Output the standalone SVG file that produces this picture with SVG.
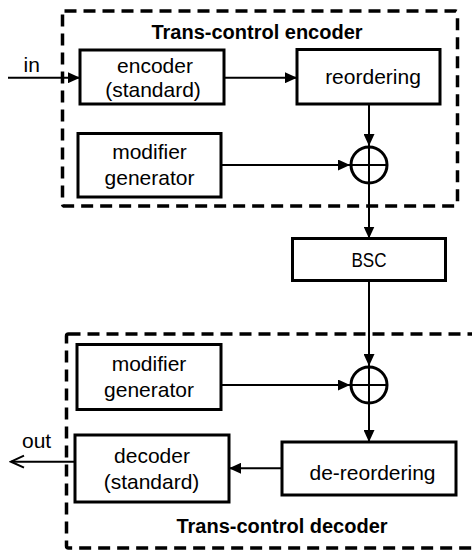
<svg xmlns="http://www.w3.org/2000/svg" width="472" height="550" viewBox="0 0 472 550">
  <style>
    .frame { fill: none; stroke: #000; stroke-width: 3.5; stroke-dasharray: 12 7; }
    .box { fill: #fff; stroke: #000; stroke-width: 3; }
    .xor { fill: #fff; stroke: #000; stroke-width: 3; }
    .cross { stroke: #000; stroke-width: 2; }
    .wire { fill: none; stroke: #000; stroke-width: 2; }
    text { font-family: "Liberation Sans", Arial, sans-serif; font-size: 21px; fill: #000; }
    .c { text-anchor: middle; }
    .title { font-weight: bold; font-size: 20px; text-anchor: middle; }
  </style>
  <defs>
    <marker id="arrow" markerUnits="userSpaceOnUse" markerWidth="13" markerHeight="11" refX="12" refY="5.5" orient="auto">
      <path d="M0,0 L12,5.5 L0,11 z" fill="#000"/>
    </marker>
    <marker id="open" markerUnits="userSpaceOnUse" markerWidth="16" markerHeight="16" refX="14" refY="7" orient="auto">
      <path d="M1,1 L14,7 L1,13" fill="none" stroke="#000" stroke-width="2"/>
    </marker>
  </defs>

  <!-- dashed enclosures -->
  <g id="encoder-frame">
    <rect class="frame" x="62.5" y="11" width="395" height="195" rx="2"/>
    <text class="title" x="257" y="38.5">Trans-control encoder</text>
  </g>
  <g id="decoder-frame">
    <rect class="frame" x="66.5" y="334" width="430" height="214" rx="2"/>
    <text class="title" x="282" y="533">Trans-control decoder</text>
  </g>

  <!-- connectors -->
  <g id="connectors">
    <line class="wire" x1="8" y1="77.7" x2="80" y2="77.7" marker-end="url(#arrow)"/>
    <line class="wire" x1="224" y1="77.7" x2="297" y2="77.7" marker-end="url(#arrow)"/>
    <line class="wire" x1="369" y1="104" x2="369" y2="146" marker-end="url(#arrow)"/>
    <line class="wire" x1="221" y1="165" x2="350" y2="165" marker-end="url(#arrow)"/>
    <line class="wire" x1="369" y1="183" x2="369" y2="238.5" marker-end="url(#arrow)"/>
    <line class="wire" x1="369" y1="280.5" x2="369" y2="366" marker-end="url(#arrow)"/>
    <line class="wire" x1="221" y1="385" x2="350" y2="385" marker-end="url(#arrow)"/>
    <line class="wire" x1="369" y1="403" x2="369" y2="442" marker-end="url(#arrow)"/>
    <line class="wire" x1="282" y1="468.3" x2="229" y2="468.3" marker-end="url(#arrow)"/>
    <line class="wire" x1="75" y1="461.7" x2="11" y2="461.7" marker-end="url(#open)"/>
    <text x="23.5" y="72">in</text>
    <text x="22" y="448">out</text>
  </g>

  <!-- encoder side -->
  <g id="encoder">
    <rect class="box" x="80" y="50" width="144" height="54"/>
    <text class="c" x="155" y="72.5">encoder</text>
    <text class="c" x="153" y="97">(standard)</text>
  </g>
  <g id="reordering">
    <rect class="box" x="297" y="49.5" width="143" height="54.5"/>
    <text class="c" x="373" y="83.5">reordering</text>
  </g>
  <g id="modifier-enc">
    <rect class="box" x="78" y="133.5" width="143" height="63.5"/>
    <text class="c" x="149.5" y="159">modifier</text>
    <text class="c" x="149.5" y="184.5">generator</text>
  </g>
  <g id="xor-enc">
    <circle class="xor" cx="369" cy="165" r="18"/>
    <line class="cross" x1="351" y1="165" x2="387" y2="165"/>
    <line class="cross" x1="369" y1="147" x2="369" y2="183"/>
  </g>

  <!-- channel -->
  <g id="bsc">
    <rect class="box" x="292.5" y="238.5" width="153" height="42"/>
    <text class="c" x="369" y="267" textLength="35" lengthAdjust="spacingAndGlyphs">BSC</text>
  </g>

  <!-- decoder side -->
  <g id="modifier-dec">
    <rect class="box" x="77" y="344.5" width="144" height="65"/>
    <text class="c" x="149" y="371">modifier</text>
    <text class="c" x="149" y="397">generator</text>
  </g>
  <g id="xor-dec">
    <circle class="xor" cx="369" cy="385" r="18"/>
    <line class="cross" x1="351" y1="385" x2="387" y2="385"/>
    <line class="cross" x1="369" y1="367" x2="369" y2="403"/>
  </g>
  <g id="de-reordering">
    <rect class="box" x="282" y="442" width="174" height="53"/>
    <text class="c" x="372.5" y="479.5">de-reordering</text>
  </g>
  <g id="decoder">
    <rect class="box" x="75" y="435" width="154" height="67"/>
    <text class="c" x="152" y="463">decoder</text>
    <text class="c" x="151.5" y="488.5">(standard)</text>
  </g>
</svg>
